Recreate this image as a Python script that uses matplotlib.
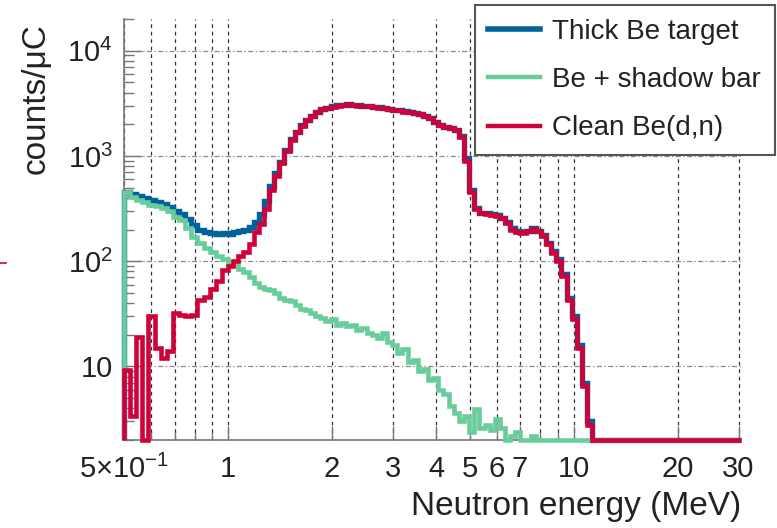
import numpy as np
import matplotlib
matplotlib.use("Agg")
import matplotlib.pyplot as plt
from matplotlib.lines import Line2D
from matplotlib.ticker import FixedLocator, FixedFormatter, LogLocator, NullFormatter

plt.rcParams["font.family"] = ["Liberation Sans", "DejaVu Sans"]
plt.rcParams["mathtext.fontset"] = "custom"
plt.rcParams["mathtext.rm"] = "Liberation Sans"
plt.rcParams["mathtext.it"] = "Liberation Sans:italic"
plt.rcParams["mathtext.bf"] = "Liberation Sans:bold"
plt.rcParams["mathtext.sf"] = "Liberation Sans"

# Histogram binning (MeV): coarser log bins below 1 MeV, finer above
energy_edges = np.concatenate([np.geomspace(0.5, 1.0, 18),
                               np.geomspace(1.0, 30.5, 101)[1:]])

# counts/uC per bin
thick_be = [
    455, 432, 415, 400, 385, 368, 352, 330, 300, 278,
    250, 220, 200, 190, 186, 182, 184,
    180, 188, 195, 200, 210, 235, 280, 370, 520, 690,
    880, 1150, 1450, 1700, 1950, 2200, 2420, 2620, 2800, 2880,
    2950, 3020, 3060, 3130, 3050, 3020, 2990, 2960, 2920, 2890,
    2850, 2800, 2760, 2720, 2650, 2610, 2560, 2500, 2420, 2300,
    2100, 1980, 1900, 1850, 1780, 1550, 950, 470, 320, 290,
    285, 280, 272, 260, 235, 205, 192, 188, 195, 205,
    195, 178, 150, 125, 105, 75, 45, 30, 16, 7,
    3, 0, 0, 0, 0, 0, 0, 0, 0, 0,
    0, 0, 0, 0, 0, 0, 0, 0, 0, 0,
    0, 0, 0, 0, 0, 0, 0, 0, 0, 0,
]

shadow_bar = [
    450, 410, 385, 365, 345, 332, 322, 300, 265, 245,
    205, 170, 150, 132, 122, 112, 104,
    98, 92, 85, 79, 70, 62, 57, 55, 53, 50,
    45, 43, 42, 38, 35, 34, 32, 30, 29, 27,
    28, 25, 26, 24, 24.5, 22, 23, 21, 20, 18.5,
    21, 17, 16, 13.5, 14.5, 11, 11.5, 9, 9.5, 7.5,
    7.8, 6, 5.5, 4.2, 3.6, 3.0, 3.4, 2.4, 3.9, 2.6,
    2.8, 2.5, 3.2, 2.6, 0, 2.2, 2.4, 0, 0, 2.2,
    0, 0, 0, 0, 0, 0, 0, 0, 0, 0,
    0, 0, 0, 0, 0, 0, 0, 0, 0, 0,
    0, 0, 0, 0, 0, 0, 0, 0, 0, 0,
    0, 0, 0, 0, 0, 0, 0, 0, 0, 0,
]

clean_bedn = [
    9.2, 3.4, 19, 0, 30, 15, 12, 14, 32, 31,
    30, 31, 43, 46, 55, 65, 82,
    90, 100, 112, 122, 145, 190, 225, 310, 470, 650,
    850, 1120, 1420, 1680, 1930, 2180, 2400, 2600, 2790, 2870,
    2940, 3010, 3070, 3120, 3040, 3010, 2980, 2950, 2930, 2880,
    2840, 2790, 2750, 2710, 2640, 2600, 2550, 2490, 2400, 2280,
    2080, 1960, 1890, 1830, 1760, 1500, 900, 450, 310, 285,
    282, 275, 268, 255, 230, 200, 190, 186, 193, 202,
    192, 174, 146, 120, 100, 72, 43, 28, 15, 6.5,
    2.8, 0, 0, 0, 0, 0, 0, 0, 0, 0,
    0, 0, 0, 0, 0, 0, 0, 0, 0, 0,
    0, 0, 0, 0, 0, 0, 0, 0, 0, 0,
]

series_labels = ["Thick Be target", "Be + shadow bar", "Clean Be(d,n)"]
series_colors = ["#00629b", "#69cc9b", "#d00038"]

x_major = [0.5, 1, 2, 3, 4, 5, 6, 7, 10, 20, 30]
x_major_labels = [r"$5{\times}10^{-1}$", "1", "2", "3", "4", "5", "6", "7", "10", "20", "30"]
x_minor = [0.6, 0.7, 0.8, 0.9, 8, 9]
y_major = [10, 100, 1000, 10000]
y_major_labels = ["10", r"$10^{2}$", r"$10^{3}$", r"$10^{4}$"]

W, H = 777, 528
fig = plt.figure(figsize=(W / 100, H / 100), dpi=100)
ax = fig.add_axes([124 / W, 1 - 440 / H, (741 - 124) / W, (440 - 19) / H])

ymin, ymax = 2.0, 2.0e4
ax.set_xscale("log")
ax.set_yscale("log")
ax.set_xlim(0.5, 30.5)
ax.set_ylim(ymin, ymax)

widths = [3.9, 3.3, 3.3]
for vals, col, lw, z in zip([thick_be, shadow_bar, clean_bedn], series_colors, widths, [3, 4, 5]):
    ax.stairs(np.maximum(np.asarray(vals, float), ymin), energy_edges, baseline=ymin,
              color=col, lw=lw, clip_on=False, zorder=z, joinstyle="miter")

# axis ticks and labels
ax.xaxis.set_major_locator(FixedLocator(x_major))
ax.xaxis.set_major_formatter(FixedFormatter(x_major_labels))
ax.xaxis.set_minor_locator(FixedLocator(x_minor))
ax.xaxis.set_minor_formatter(NullFormatter())
ax.yaxis.set_major_locator(FixedLocator(y_major))
ax.yaxis.set_major_formatter(FixedFormatter(y_major_labels))
ax.yaxis.set_minor_locator(LogLocator(base=10, subs=np.arange(2, 10)))
ax.yaxis.set_minor_formatter(NullFormatter())

# grid: dashed verticals, dash-dot horizontals
ax.grid(True, which="both", axis="x", color="#333333", linestyle=(0, (3, 3)), lw=0.9)
ax.grid(True, which="major", axis="y", color="#888888", linestyle=(0, (4, 2, 1, 2)), lw=0.9)
ax.set_axisbelow(True)

for s in ["top", "right"]:
    ax.spines[s].set_visible(False)
for s in ["left", "bottom"]:
    ax.spines[s].set_color("#777777")
    ax.spines[s].set_linewidth(1.2)

ax.tick_params(axis="y", which="major", direction="in", length=13, width=1.0,
               color="#777777", labelsize=21, pad=8, labelcolor="#222222")
ax.tick_params(axis="y", which="minor", direction="in", length=7, width=1.0, color="#777777")
ax.tick_params(axis="x", which="major", direction="in", length=10, width=1.0,
               color="#777777", labelsize=21, pad=11, labelcolor="#222222")
ax.tick_params(axis="x", which="minor", direction="in", length=6, width=1.0, color="#777777")

ax.set_xlabel("Neutron energy (MeV)", fontsize=24, loc="right", color="#222222", labelpad=5)
ax.set_ylabel("counts/μC", fontsize=24, loc="top", color="#222222")
ax.yaxis.set_label_coords(-0.118, 0.99)

handles = [Line2D([], [], color=c, lw=w) for c, w in zip(series_colors, [4.0, 3.2, 3.2])]
leg = fig.legend(handles, series_labels, loc="upper right", bbox_to_anchor=(775 / W, 1 - 5 / H),
                 fontsize=20, frameon=True, fancybox=False, framealpha=1, edgecolor="#555555",
                 handlelength=1.85, handletextpad=0.45, labelspacing=0.8, borderpad=0.5,
                 borderaxespad=0)
leg.get_frame().set_linewidth(1.5)
for t in leg.get_texts():
    t.set_color("#222222")

# small red pointer at the left margin
fig.add_artist(Line2D([0, 6 / W], [1 - 263 / H, 1 - 263 / H], color="#d00038", lw=1.2))

fig.savefig("out.png", dpi=100)
